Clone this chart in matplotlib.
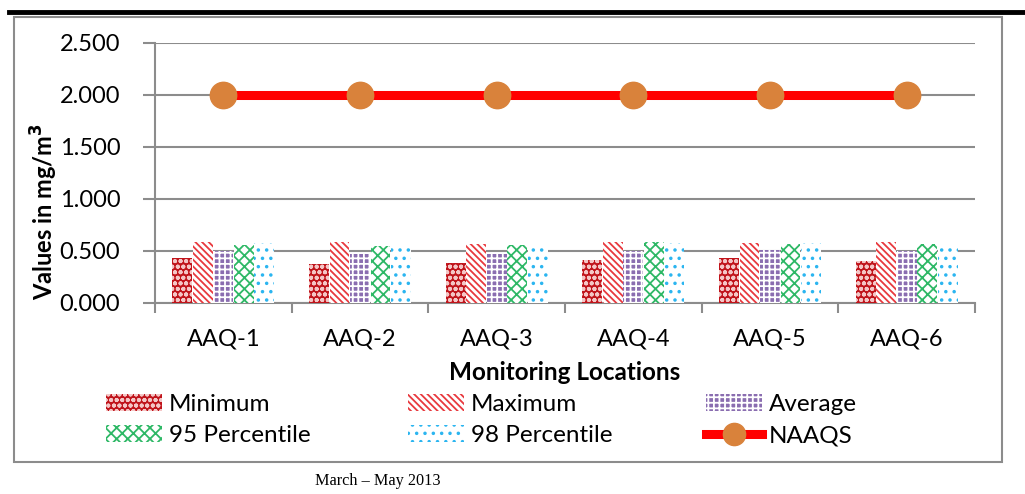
import numpy as np
import matplotlib
matplotlib.use('Agg')
import matplotlib.pyplot as plt
from matplotlib.lines import Line2D
from matplotlib.patches import Rectangle

plt.rcParams['font.family'] = ['Lato', 'DejaVu Sans']
plt.rcParams['hatch.linewidth'] = 1.3

# 监测点数据
locations = ['AAQ-1', 'AAQ-2', 'AAQ-3', 'AAQ-4', 'AAQ-5', 'AAQ-6']
minimum = [0.426, 0.373, 0.383, 0.409, 0.426, 0.403]
maximum = [0.585, 0.578, 0.562, 0.578, 0.572, 0.582]
average = [0.497, 0.465, 0.468, 0.497, 0.504, 0.494]
p95 = [0.556, 0.539, 0.556, 0.578, 0.562, 0.562]
p98 = [0.572, 0.562, 0.562, 0.572, 0.568, 0.565]
naaqs = [2.0, 2.0, 2.0, 2.0, 2.0, 2.0]
y_ticks = [0.0, 0.5, 1.0, 1.5, 2.0, 2.5]

series = [
    ('Minimum', minimum, '#C0141B', '#F4C6C6', 'ooo'),
    ('Maximum', maximum, '#FFFFFF', '#E8393E', '\\\\\\\\\\'),
    ('Average', average, '#8A6DB0', '#FFFFFF', '+++'),
    ('95 Percentile', p95, '#FFFFFF', '#2EB866', 'xxx'),
    ('98 Percentile', p98, '#FFFFFF', '#2BB5F0', '..'),
]

fig = plt.figure(figsize=(10.25, 4.94), dpi=100)
W, H = 1025, 494
ax = fig.add_axes([155 / W, 1 - 302.5 / H, 820 / W, 260 / H])

x = np.arange(len(locations))
bw = 0.15
handles = []
for i, (name, vals, face, hcol, hatch) in enumerate(series):
    off = (i - 2) * bw
    ax.bar(x + off, vals, bw * 0.97, color=face, edgecolor=hcol, hatch=hatch,
           linewidth=0, zorder=3)
    handles.append(Rectangle((0, 0), 1, 1, facecolor=face, edgecolor=hcol,
                             hatch=hatch, linewidth=0, label=name))

ax.plot(x, naaqs, '-', color='#FF0000', lw=6.5, marker='o', markersize=19,
        markerfacecolor='#D9823B', markeredgecolor='#D9823B', zorder=4)
handles.append(Line2D([0], [0], color='#FF0000', lw=6.5, marker='o', markersize=16,
                      markerfacecolor='#D9823B', markeredgecolor='#D9823B', label='NAAQS'))

ax.set_xlim(-0.5, len(locations) - 0.5)
ax.set_ylim(0, 2.5)
ax.set_yticks(y_ticks)
ax.set_yticklabels(['%.3f' % v for v in y_ticks], fontsize=17)
ax.set_xticks(x)
ax.set_xticklabels(locations, fontsize=17)
ax.set_xticks(np.arange(-0.5, len(locations)), minor=True)
ax.tick_params(axis='x', which='major', length=0, pad=19)
ax.tick_params(axis='x', which='minor', length=7, color='#8C8C8C', width=1.5)
ax.tick_params(axis='y', length=9, color='#8C8C8C', width=1.5, pad=16)
ax.grid(axis='y', color='#8C8C8C', lw=1.5, zorder=0)
for s in ['top', 'right']:
    ax.spines[s].set_visible(False)
for s in ['left', 'bottom']:
    ax.spines[s].set_color('#8C8C8C')
    ax.spines[s].set_linewidth(1.5)

ax.set_ylabel('Values in mg/m$^\\mathbf{3}$', fontsize=17, fontweight='bold')
ax.yaxis.set_label_coords(-0.116, 0.35)
ax.set_xlabel('Monitoring Locations', fontsize=17.5, fontweight='bold', labelpad=8)

# 图例分三列摆放
cols = [([0, 3], 106), ([1, 4], 408), ([2, 5], 706)]
for idx, xpos in cols:
    leg = fig.legend([handles[k] for k in idx], [handles[k].get_label() for k in idx],
                     loc='upper left', bbox_to_anchor=(xpos / W, 1 - 394 / H),
                     frameon=False, fontsize=17.5, handlelength=2.3, handleheight=0.7,
                     handletextpad=0.3, labelspacing=0.42, borderpad=0, borderaxespad=0)

# 外框和页眉线
fig.add_artist(Rectangle((13.5 / W, 1 - 462 / H), 988.5 / W, 445 / H, transform=fig.transFigure,
                         fill=False, edgecolor='#8C8C8C', lw=1.5))
fig.add_artist(Line2D([9 / W, 1], [1 - 12 / H, 1 - 12 / H], transform=fig.transFigure,
                      color='black', lw=3.5))
fig.text(315 / W, 1 - 481 / H, 'March \u2013 May 2013', fontsize=11.7,
         family=['Liberation Serif', 'DejaVu Serif'], va='center')

fig.savefig('out.png', dpi=100)
